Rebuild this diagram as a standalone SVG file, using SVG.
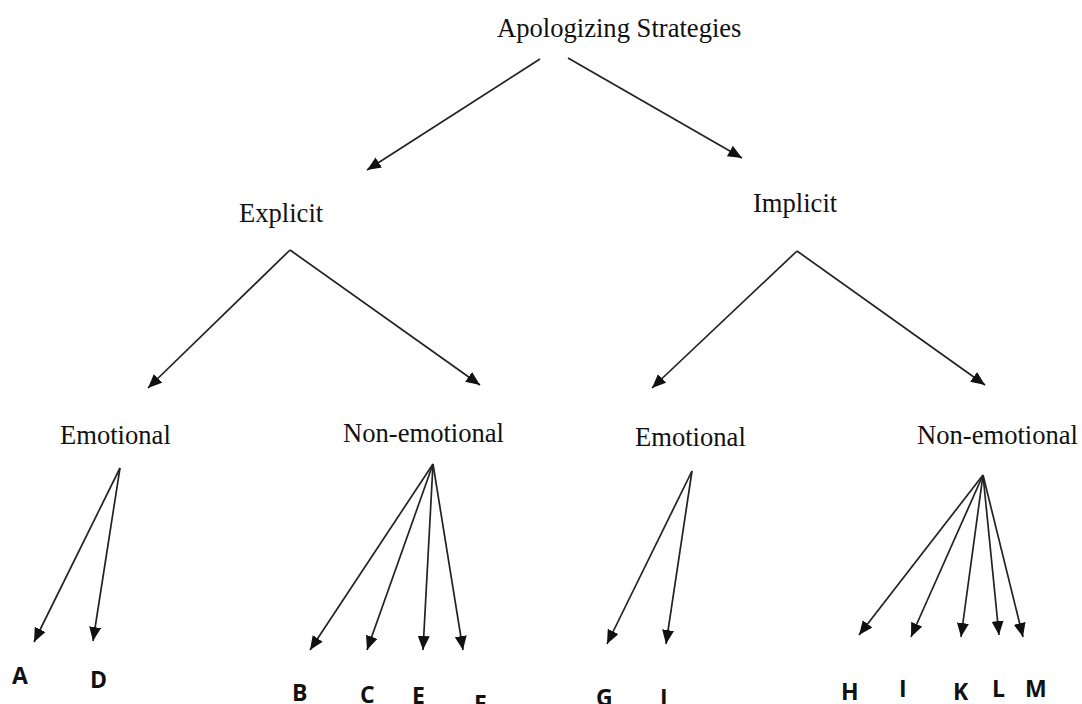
<svg xmlns="http://www.w3.org/2000/svg" width="1082" height="704" viewBox="0 0 1082 704">
<style>
.lbl{font-family:"Liberation Serif","Times New Roman",serif;font-size:26.6px;fill:#111}
.leaf{font-family:"Open Sans","Liberation Sans",sans-serif;font-weight:700;font-size:23px;fill:#111}
.c line{stroke:#222;stroke-width:1.7;marker-end:url(#ah)}
</style>
<defs>
<marker id="ah" markerUnits="userSpaceOnUse" markerWidth="16" markerHeight="14" refX="14" refY="6" orient="auto">
<path d="M0,0 L14,6 L0,12 z" fill="#111"/>
</marker>
</defs>
<rect width="1082" height="704" fill="#fff"/>
<g id="n-root"><text class="lbl" x="497" y="37">Apologizing Strategies</text></g>
<g id="n-explicit"><text class="lbl" x="239" y="222">Explicit</text></g>
<g id="n-implicit"><text class="lbl" x="753" y="212">Implicit</text></g>
<g id="n-exp-emo"><text class="lbl" x="60" y="444">Emotional</text></g>
<g id="n-exp-non"><text class="lbl" x="343" y="442">Non-emotional</text></g>
<g id="n-imp-emo"><text class="lbl" x="635" y="446">Emotional</text></g>
<g id="n-imp-non"><text class="lbl" x="917" y="444">Non-emotional</text></g>
<g id="n-A"><text class="leaf" x="12" y="684">A</text></g>
<g id="n-D"><text class="leaf" x="90" y="688">D</text></g>
<g id="n-B"><text class="leaf" x="292" y="701">B</text></g>
<g id="n-C"><text class="leaf" x="360" y="703">C</text></g>
<g id="n-E"><text class="leaf" x="412" y="704">E</text></g>
<g id="n-F"><text class="leaf" x="474" y="712">F</text></g>
<g id="n-G"><text class="leaf" x="596" y="706">G</text></g>
<g id="n-J"><text class="leaf" x="660" y="706">J</text></g>
<g id="n-H"><text class="leaf" x="841" y="700">H</text></g>
<g id="n-I"><text class="leaf" x="899" y="697">I</text></g>
<g id="n-K"><text class="leaf" x="953" y="700">K</text></g>
<g id="n-L"><text class="leaf" x="992" y="697">L</text></g>
<g id="n-M"><text class="leaf" x="1025" y="697">M</text></g>
<g id="connectors" class="c">
<line x1="540" y1="59" x2="367" y2="170"/>
<line x1="568" y1="58" x2="742" y2="158"/>
<line x1="290" y1="250" x2="148" y2="388"/>
<line x1="290" y1="250" x2="480" y2="385"/>
<line x1="797" y1="251" x2="652" y2="388"/>
<line x1="797" y1="251" x2="985" y2="385"/>
<line x1="120" y1="468" x2="34" y2="642"/>
<line x1="120" y1="468" x2="93" y2="641"/>
<line x1="433" y1="464" x2="310" y2="650"/>
<line x1="433" y1="464" x2="367" y2="650"/>
<line x1="433" y1="464" x2="423" y2="650"/>
<line x1="433" y1="464" x2="463" y2="650"/>
<line x1="692" y1="471" x2="607" y2="644"/>
<line x1="692" y1="471" x2="666" y2="644"/>
<line x1="983" y1="475" x2="859" y2="635"/>
<line x1="983" y1="475" x2="911" y2="637"/>
<line x1="983" y1="475" x2="961" y2="637"/>
<line x1="983" y1="475" x2="999" y2="635"/>
<line x1="983" y1="475" x2="1023" y2="637"/>
</g>
</svg>
